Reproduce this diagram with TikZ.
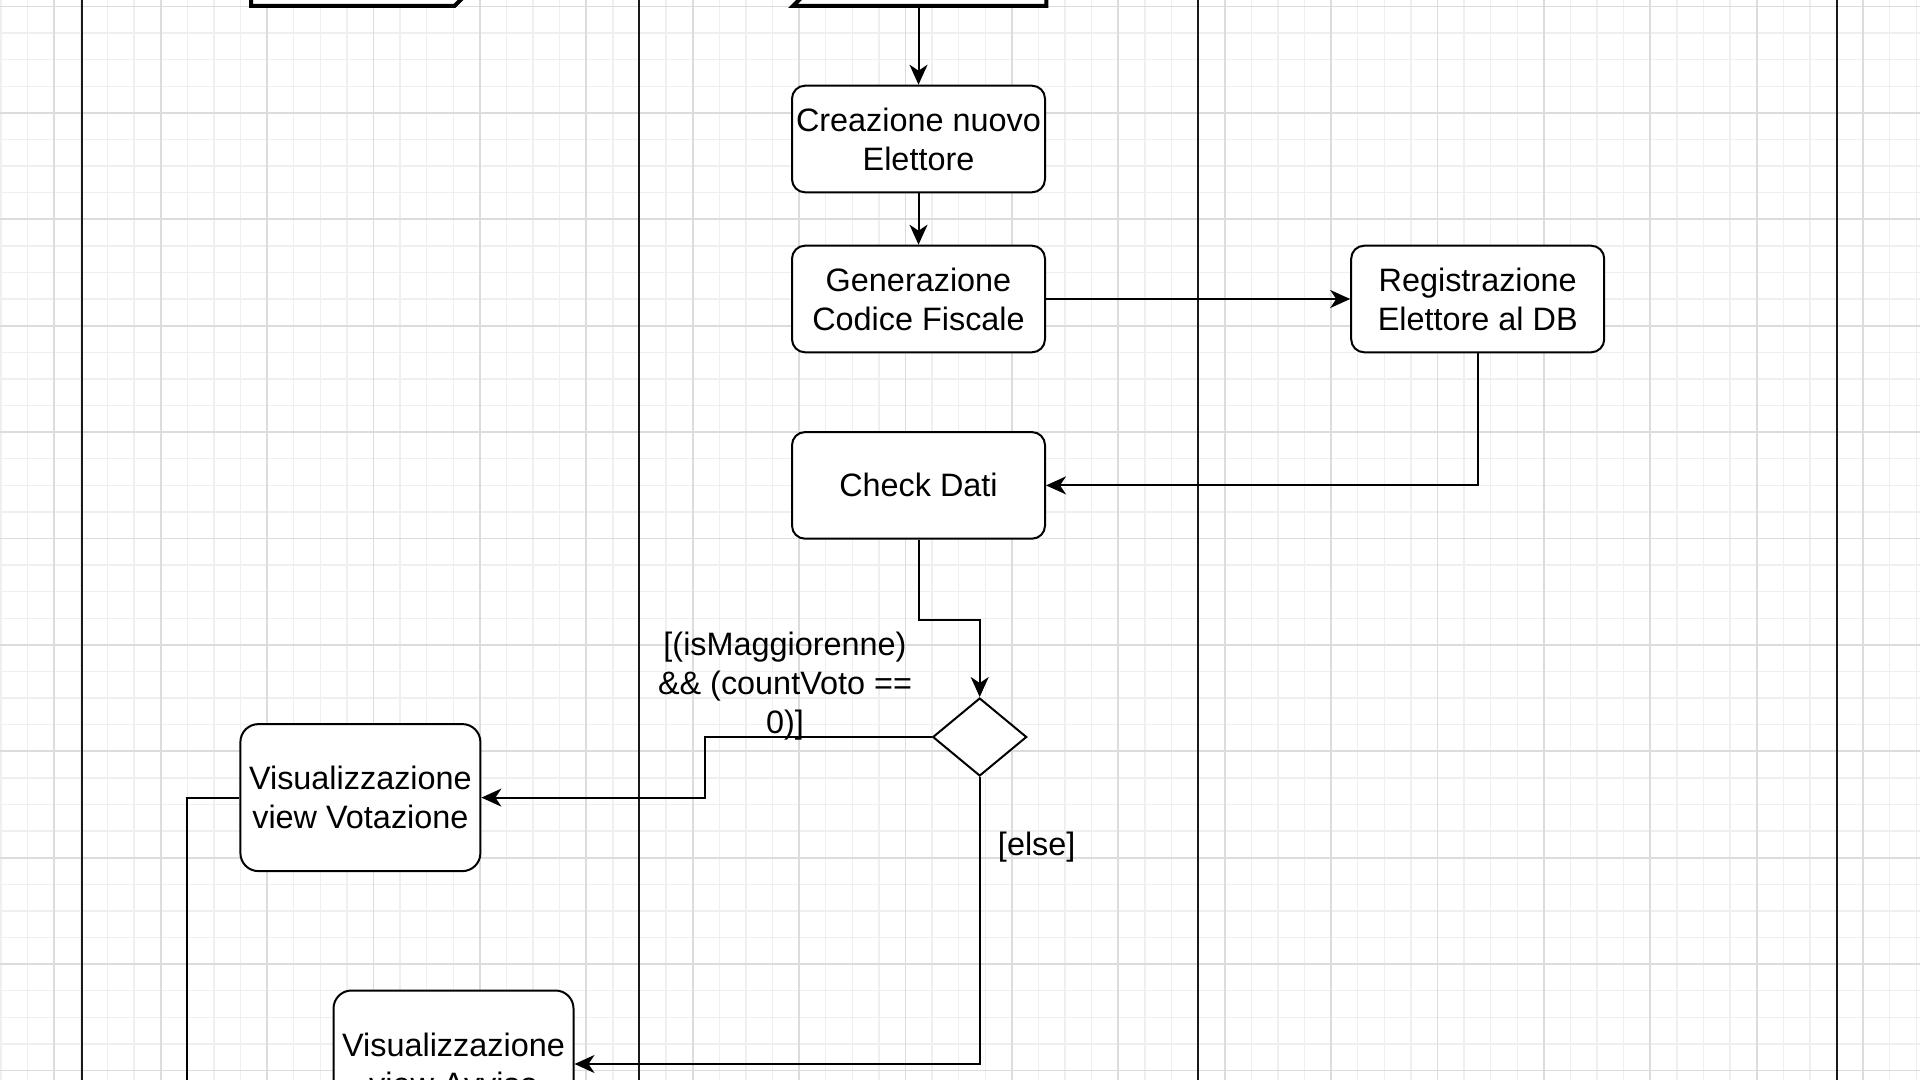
\documentclass[tikz,border=0pt]{standalone}
\usepackage{fontspec}
\setmainfont{Liberation Sans}
\usetikzlibrary{arrows.meta, shapes.geometric, shapes.symbols}

\definecolor{minorgrid}{HTML}{EFEFEF}
\definecolor{majorgrid}{HTML}{DCDCDC}

\begin{document}
\begin{tikzpicture}[x=0.5pt, y=-0.5pt,
        main/.style = {draw, rounded corners=6.5pt, line width=1pt, fill=white, align=center, inner sep=1pt, minimum width=126.5pt, minimum height=53.3pt, font=\fontsize{16.2}{19.5}\selectfont},
        big/.style = {main, rounded corners=9pt, minimum width=120pt, minimum height=73.5pt},
        choice/.style = {draw, diamond, line width=1pt, fill=white, inner sep=0pt, minimum width=47pt, minimum height=39pt},
        sig/.style = {draw, signal, line width=2pt, fill=white, inner sep=0pt, minimum height=53.5pt},
        guard/.style = {align=center, inner sep=0pt, font=\fontsize{16.2}{19.5}\selectfont},
        lane/.style = {line width=1pt, black!90},
        flow/.style = {-{Stealth[length=10pt, width=9pt, inset=3pt]}, line width=1pt}]
        \useasboundingbox (0,0) rectangle (1920,1080);
        \clip (0,0) rectangle (1920,1080);
        \fill[white] (0,0) rectangle (1920,1080);
        % griglia
        \begin{scope}[shift={(54.3,6.5)}]
            \draw[minorgrid, line width=0.7pt, step=13.3pt] (-60,1080) grid (1880,-10);
            \draw[majorgrid, line width=0.9pt, step=53.2pt] (-60,1080) grid (1880,-10);
        \end{scope}
        % corsie
        \draw[lane] (81.6,0) -- (81.6,1080);
        \draw[lane] (639.3,0) -- (639.3,1080);
        \draw[lane] (1197.6,0) -- (1197.6,1080);
        \draw[lane] (1836.5,0) -- (1836.5,1080);

        \node[sig, signal to=east, minimum width=128.4pt] (a) at (352.8,-47.5) {};
        \node[sig, signal from=west, signal to=nowhere, minimum width=126.7pt] (b) at (946.4,-47.5) {};
        \node[main] (1) at (918.5,139) {Creazione nuovo\\Elettore};
        \node[main] (2) [below of=1, node distance=80pt] {Generazione\\Codice Fiscale};
        \node[main] (3) [right of=2, node distance=279.6pt] {Registrazione\\Elettore al DB};
        \node[main] (4) [below of=2, node distance=93.2pt] {Check Dati};
        \node[choice] (5) at (979.7,737) {};
        \node[big] (6) at (360.4,797.6) {Visualizzazione\\view Votazione};
        \node[big] (7) at (453.5,1064) {Visualizzazione\\view Avviso};
        \node[guard] (8) at (785,686) {[(isMaggiorenne)\\\&\& (countVoto ==\\0)]};
        \node[guard] (9) at (1036.7,846.7) {[else]};
        \coordinate (10) at (187.3,1100);

        \draw[flow] (b.south -| 1.north) -- (1.north);
        \draw[flow] (1) -- (2);
        \draw[flow] (2) -- (3);
        \draw[flow] (3) |- (4);
        \draw[flow] (4.south) -- ++(0,79.8) -| (5.north);
        \draw[flow] (5.west) -- ++(-226.7,0) |- (6.east);
        \draw[flow] (5.south) |- (7.east);
        \draw[line width=1pt] (6.west) -| (10);
    \end{tikzpicture}
\end{document}
